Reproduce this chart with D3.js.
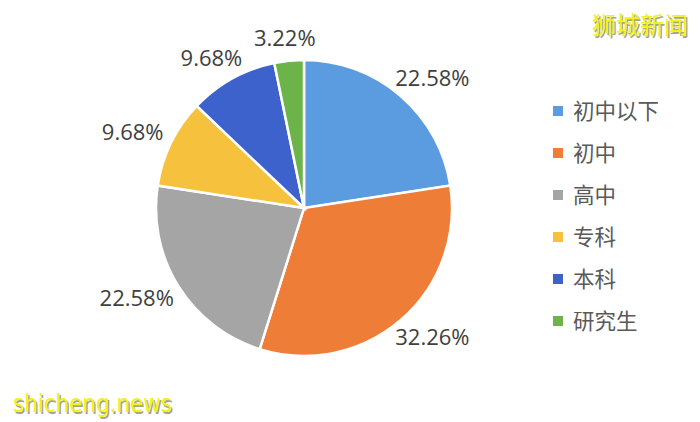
<!DOCTYPE html>
<html><head><meta charset="utf-8">
<script src="https://cdn.jsdelivr.net/npm/d3@7"></script>
<style>body{margin:0;background:#fff}svg{display:block}</style>
</head><body>
<script>
const categories = ["初中以下","初中","高中","专科","本科","研究生"];
const values = [22.58, 32.26, 22.58, 9.68, 9.68, 3.22];
const labels = ["22.58%","32.26%","22.58%","9.68%","9.68%","3.22%"];
const colors = ["#5b9be0","#ee7d38","#a5a5a5","#f6c23e","#3d62cc","#6cb34a"];

const W=700,H=422, cx=304, cy=208, R=148;
const svg=d3.select("body").append("svg").attr("width",W).attr("height",H);
const pie=d3.pie().sort(null).value(d=>d)(values);
const arc=d3.arc().innerRadius(0).outerRadius(R);
const g=svg.append("g").attr("transform",`translate(${cx},${cy})`);
g.selectAll("path").data(pie).join("path")
 .attr("d",arc).attr("fill",(d,i)=>colors[i]).attr("stroke","#fff").attr("stroke-width",2.5);

// outside-end labels: box placed just outside the rim
const gap=12, boxH=22;
const lt=g.selectAll("text.lbl").data(pie).join("text").attr("class","lbl")
 .attr("text-anchor","middle").attr("dy","0.35em")
 .attr("font-family","Open Sans, Noto Sans, sans-serif").attr("font-size",22).attr("fill","#404040")
 .text((d,i)=>labels[i]);
lt.each(function(d){
  const w=this.getComputedTextLength();
  const a=(d.startAngle+d.endAngle)/2, s=Math.sin(a), c=-Math.cos(a);
  const x=(R+gap)*s + w/2*s, y=(R+gap)*c + boxH/2*c;
  d3.select(this).attr("x",x).attr("y",y);
});

const leg=svg.append("g");
const ly=d3.scalePoint().domain(categories).range([111,321]);
categories.forEach((c,i)=>{
  leg.append("rect").attr("x",553).attr("y",ly(c)-5).attr("width",10).attr("height",10).attr("fill",colors[i]);
  leg.append("text").attr("x",573).attr("y",ly(c)).attr("dy","0.36em")
   .attr("font-family","Noto Sans CJK SC, sans-serif").attr("font-size",21.5).attr("fill","#595959").text(c);
});

function wm(x,y,t,size,fam,len){
  const a=svg.append("text").attr("x",x+1.5).attr("y",y+1.5).attr("font-family",fam).attr("font-size",size).attr("fill","#6b6b30").attr("opacity",0.6).text(t);
  const b=svg.append("text").attr("x",x).attr("y",y).attr("font-family",fam).attr("font-size",size).attr("fill","#f2f01e").text(t);
  if(len){a.attr("textLength",len).attr("lengthAdjust","spacingAndGlyphs");b.attr("textLength",len).attr("lengthAdjust","spacingAndGlyphs");}
}
wm(592,34,"狮城新闻",24,"Noto Sans CJK SC, sans-serif");
wm(13,412,"shicheng.news",24,"DejaVu Sans, sans-serif",159);
</script>
</body></html>
